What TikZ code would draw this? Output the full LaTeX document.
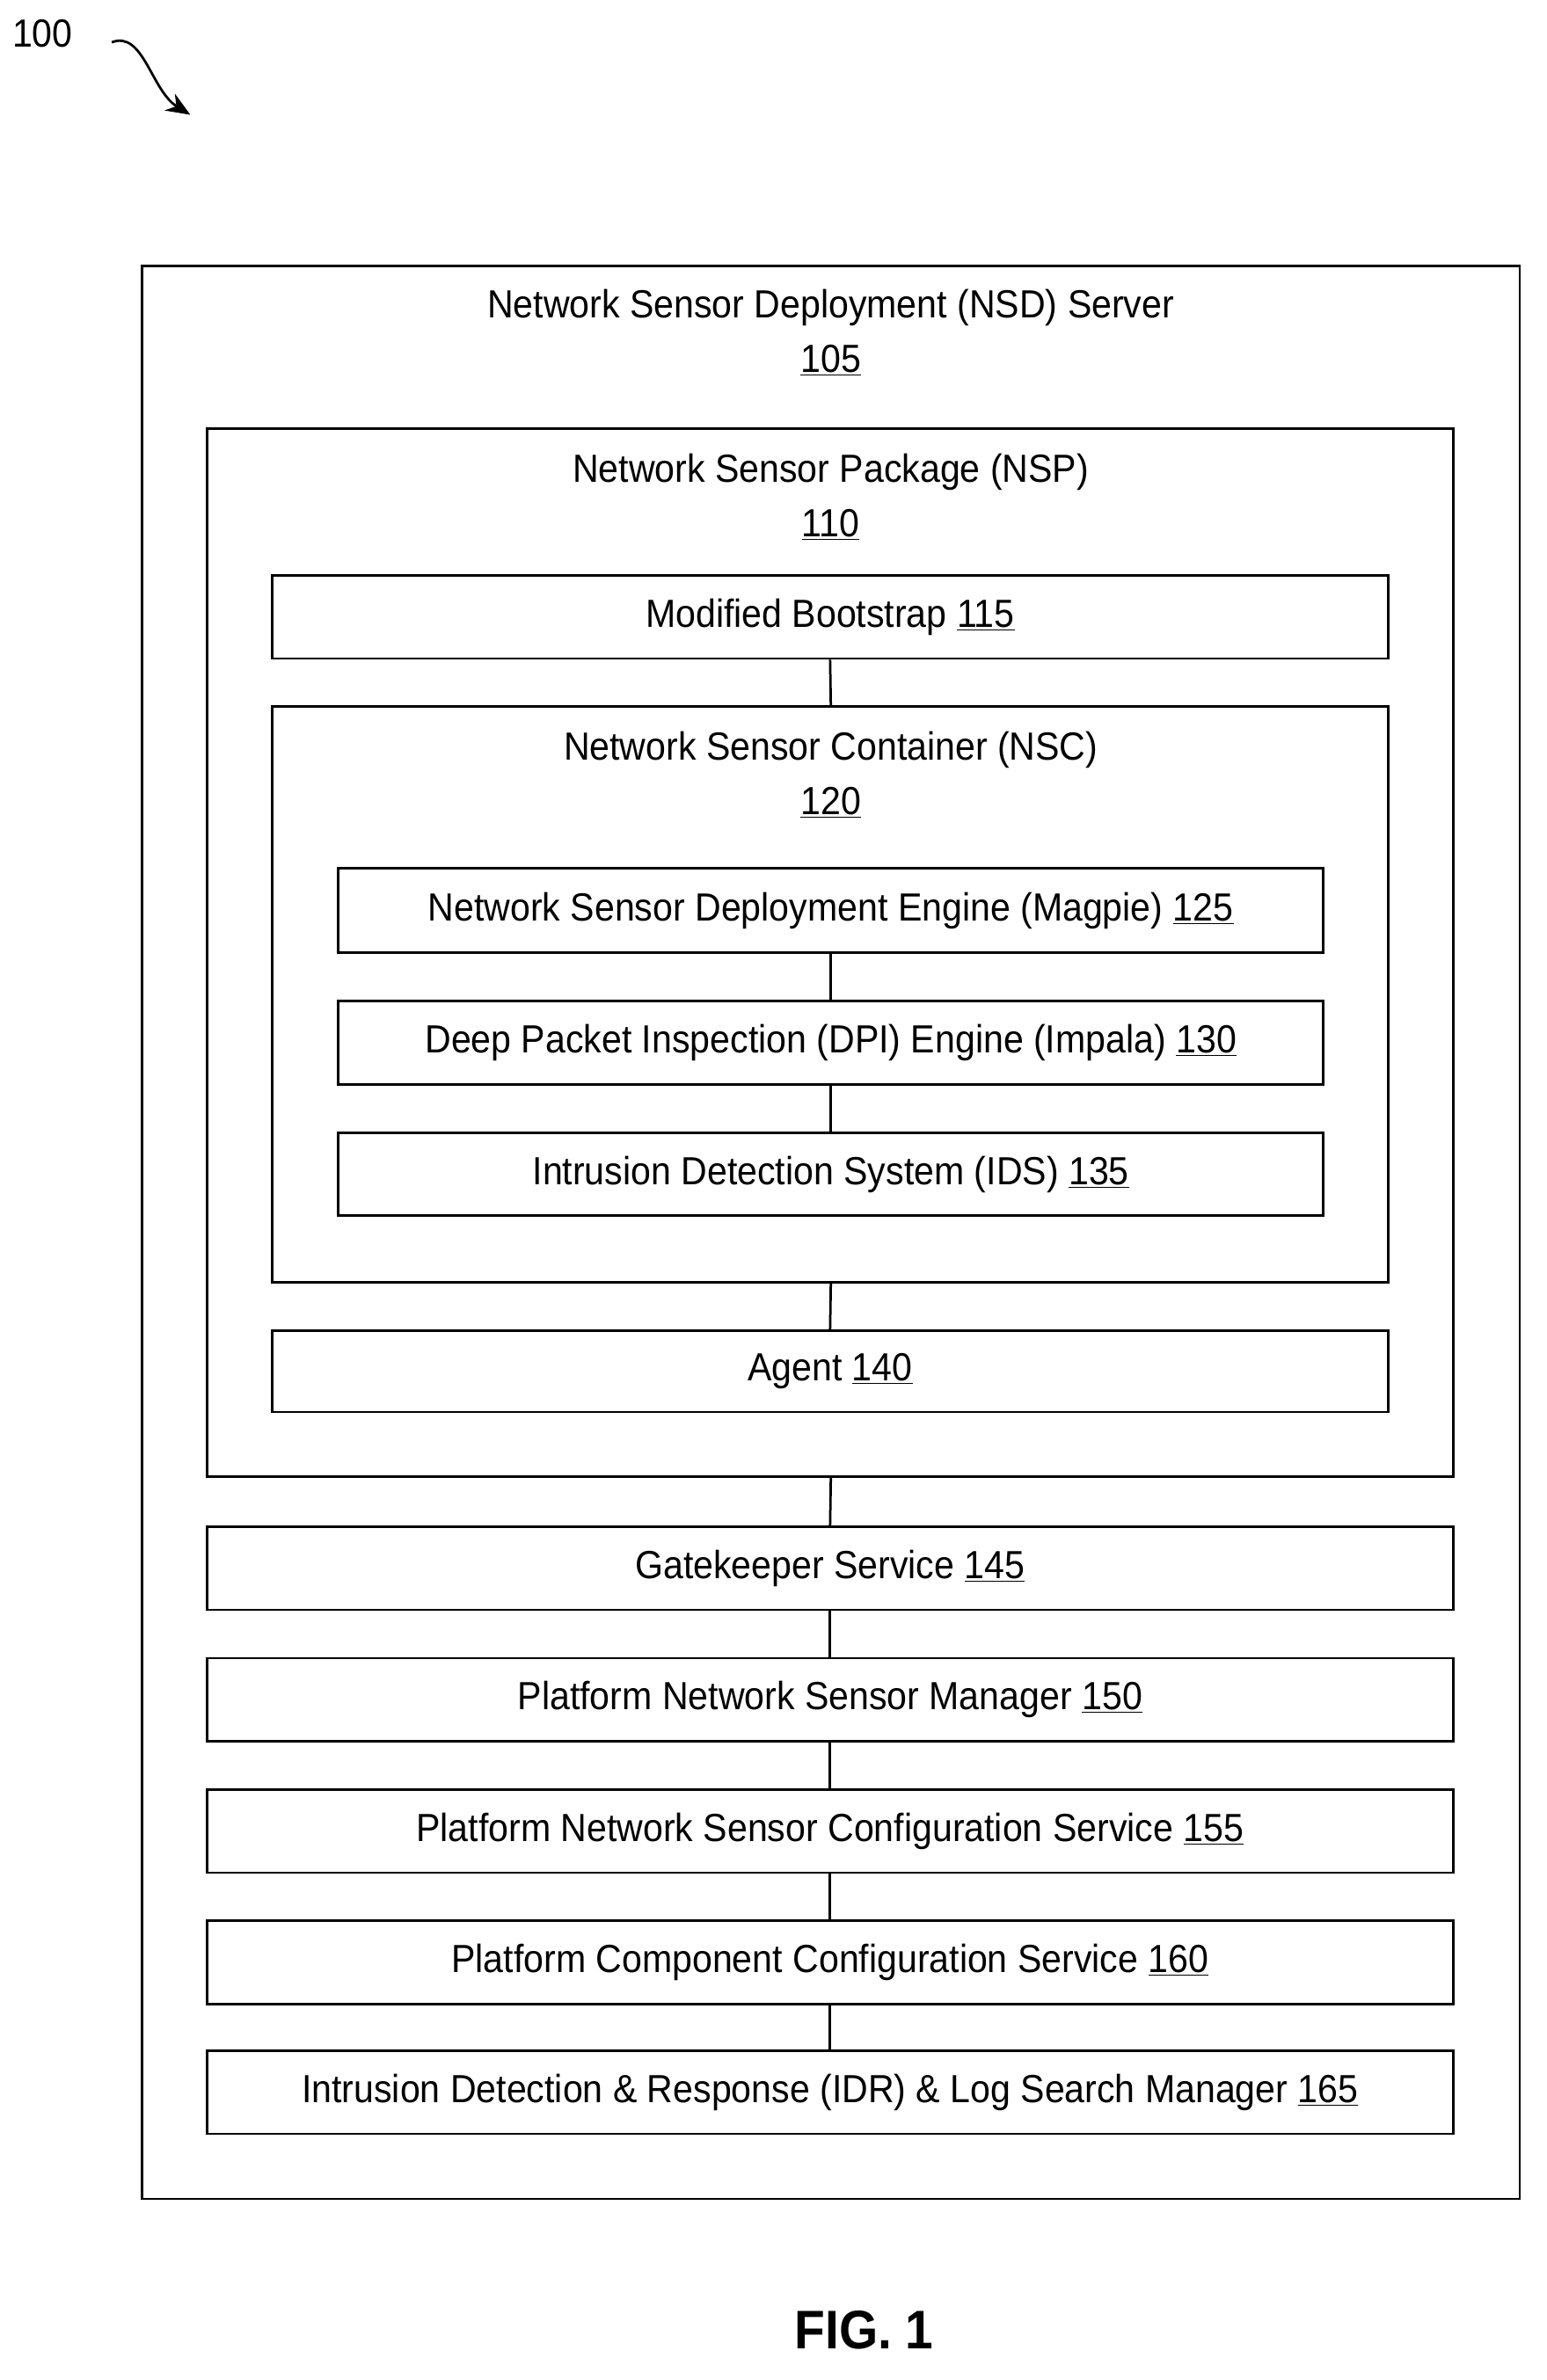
\documentclass[tikz,border=0pt]{standalone}
\usepackage{fontspec}
\usetikzlibrary{arrows.meta}
\setmainfont{Liberation Sans}[FakeStretch=0.92]
\begin{document}
\begin{tikzpicture}[x=1pt,y=-1pt,
  box/.style={draw,line width=1.6pt},
  lab/.style={font=\fontsize{26}{30}\selectfont,align=center,inner sep=0pt},
  conn/.style={line width=1.6pt}]
\useasboundingbox (0,0) rectangle (1024,1576);
\node[lab,anchor=base west] (n100) at (8,31) {100};
\coordinate (a1) at (74,28);
\coordinate (a2) at (126,76);
\draw[line width=1.6pt,-{Stealth[length=16pt,width=13pt]}] (a1) .. controls (95,20) and (100,60) .. (a2);
\draw[box] (94,176) rectangle (1006,1456);
\node[lab] (t105) at (550,220) {Network Sensor Deployment (NSD) Server\\[6pt]\underline{105}};
\draw[box] (137,284) rectangle (962,978);
\node[lab] (t110) at (550,329) {Network Sensor Package (NSP)\\[6pt]\underline{110}};
\node[box,lab,minimum width=739pt,minimum height=55pt] (b115) at (549.5,408.5) {Modified Bootstrap \underline{115}};
\draw[box] (180,468) rectangle (919,849);
\coordinate (nsctop) at (550,468);
\coordinate (nscbot) at (550,849);
\node[lab] (t120) at (550,513) {Network Sensor Container (NSC)\\[6pt]\underline{120}};
\node[box,lab,minimum width=652pt,minimum height=56pt] (b125) at (550,603) {Network Sensor Deployment Engine (Magpie) \underline{125}};
\node[box,lab,minimum width=652pt,minimum height=55pt] (b130) at (550,690.5) {Deep Packet Inspection (DPI) Engine (Impala) \underline{130}};
\node[box,lab,minimum width=652pt,minimum height=55pt] (b135) at (550,777.5) {Intrusion Detection System (IDS) \underline{135}};
\node[box,lab,minimum width=739pt,minimum height=54pt] (b140) at (549.5,908) {Agent \underline{140}};
\coordinate (nspbot) at (550,978);
\node[box,lab,minimum width=825pt,minimum height=55pt] (b145) at (549.5,1038.5) {Gatekeeper Service \underline{145}};
\node[box,lab,minimum width=825pt,minimum height=55pt] (b150) at (549.5,1125.5) {Platform Network Sensor Manager \underline{150}};
\node[box,lab,minimum width=825pt,minimum height=55pt] (b155) at (549.5,1212.5) {Platform Network Sensor Configuration Service \underline{155}};
\node[box,lab,minimum width=825pt,minimum height=55pt] (b160) at (549.5,1299.5) {Platform Component Configuration Service \underline{160}};
\node[box,lab,minimum width=825pt,minimum height=55pt] (b165) at (549.5,1385.5) {Intrusion Detection \& Response (IDR) \& Log Search Manager \underline{165}};
\draw[conn] (b115.south) -- (nsctop);
\draw[conn] (b125) -- (b130);
\draw[conn] (b130) -- (b135);
\draw[conn] (nscbot) -- (b140.north);
\draw[conn] (nspbot) -- (b145.north);
\draw[conn] (b145) -- (b150);
\draw[conn] (b150) -- (b155);
\draw[conn] (b155) -- (b160);
\draw[conn] (b160) -- (b165);
\node[lab,font=\fontsize{36}{40}\selectfont\bfseries] (fig) at (572,1543) {FIG. 1};
\end{tikzpicture}
\end{document}
